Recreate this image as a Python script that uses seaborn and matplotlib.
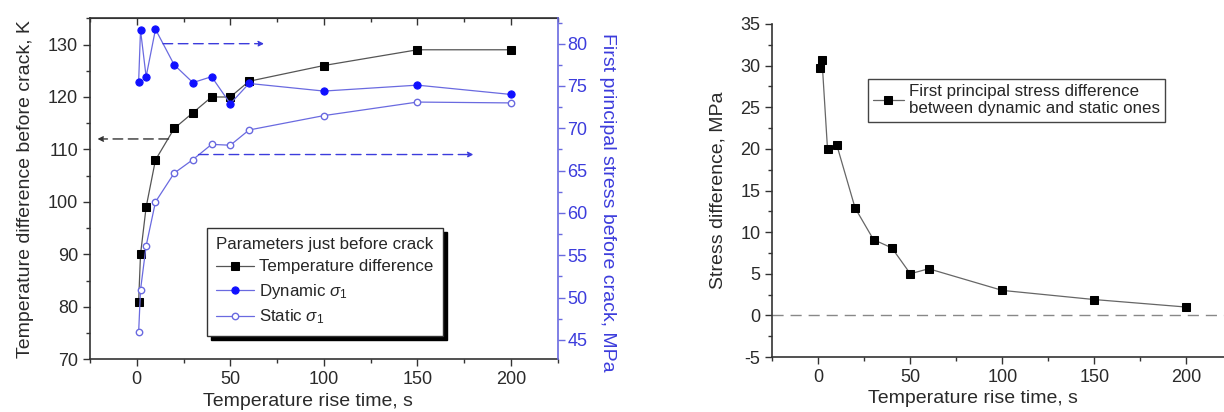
import numpy as np
import pandas as pd
import matplotlib
matplotlib.use('Agg')
import matplotlib.pyplot as plt
from matplotlib.ticker import MultipleLocator
import seaborn as sns

# valores
tempo = [1, 2, 5, 10, 20, 30, 40, 50, 60, 100, 150, 200]
dif_temp = [81, 90, 99, 108, 114, 117, 120, 120, 123, 126, 129, 129]
sigma_din = [75.5, 81.6, 76.1, 81.7, 77.5, 75.4, 76.1, 72.9, 75.3, 74.4, 75.1, 74.0]
sigma_est = [45.9, 50.9, 56.1, 61.3, 64.7, 66.3, 68.1, 68.0, 69.8, 71.5, 73.1, 73.0]
dif_tensao = [29.7, 30.7, 20.0, 20.5, 12.9, 9.1, 8.1, 5.0, 5.6, 3.0, 1.9, 1.0]

# setas (inicio, fim) em coordenadas de dados
seta_temp = ((17, 112), (-21, 112))
seta_din = ((14, 80), (68, 80))
seta_est = ((33, 66.9), (180, 66.9))

df = pd.DataFrame({'t': tempo, 'dT': dif_temp, 'din': sigma_din,
                   'est': sigma_est, 'ds': dif_tensao})

sns.set_style('ticks')
plt.rcParams['font.family'] = ['Liberation Sans', 'DejaVu Sans']
plt.rcParams['mathtext.fontset'] = 'custom'
plt.rcParams['mathtext.rm'] = 'Liberation Sans'
plt.rcParams['mathtext.it'] = 'Liberation Sans:italic'
plt.rcParams['axes.unicode_minus'] = False

azul = '#3c3cdc'
azul_linha = '#6a6ae0'
cinza_txt = '#2a2a2a'
tam_tick = 13
tam_rotulo = 14
tam_leg = 12.2

fig = plt.figure(figsize=(12.24, 4.12), dpi=100)

# ---------------- grafico da esquerda ----------------
ax = fig.add_axes([90 / 1224, 1 - 359.3 / 412, 467.7 / 1224, 341 / 412])
ax2 = ax.twinx()

sns.lineplot(data=df, x='t', y='dT', ax=ax, color='#555555', lw=0.9,
             marker='s', markersize=5.4, markerfacecolor='black',
             markeredgecolor='black', label='Temperature difference')
sns.lineplot(data=df, x='t', y='din', ax=ax2, color=azul_linha, lw=0.9,
             marker='o', markersize=5.2, markerfacecolor='#1010ff',
             markeredgecolor='#1010ff', label=r'Dynamic $\sigma_1$')
sns.lineplot(data=df, x='t', y='est', ax=ax2, color=azul_linha, lw=0.9,
             marker='o', markersize=4.6, markerfacecolor='white',
             markeredgecolor=azul_linha, markeredgewidth=1,
             label=r'Static $\sigma_1$')

ax.set_xlim(-25, 225)
ax.set_ylim(70, 135)
ax2.set_ylim(42.7, 83)

ax.xaxis.set_major_locator(MultipleLocator(50))
ax.xaxis.set_minor_locator(MultipleLocator(25))
ax.yaxis.set_major_locator(MultipleLocator(10))
ax.yaxis.set_minor_locator(MultipleLocator(5))
ax2.yaxis.set_major_locator(MultipleLocator(5))
ax2.yaxis.set_minor_locator(MultipleLocator(2.5))

ax.tick_params(axis='both', which='major', direction='out', length=5,
               width=1, labelsize=tam_tick, labelcolor=cinza_txt, color='#333')
ax.tick_params(axis='both', which='minor', direction='out', length=3,
               width=1, color='#333')
topo = ax.secondary_xaxis('top')
topo.xaxis.set_major_locator(MultipleLocator(50))
topo.xaxis.set_minor_locator(MultipleLocator(25))
topo.tick_params(which='major', direction='in', length=5, width=1,
                 labeltop=False, color='#333')
topo.tick_params(which='minor', direction='in', length=3, width=1, color='#333')
topo.spines['top'].set_color('#333')

ax2.tick_params(axis='y', which='major', direction='out', length=5, width=1,
                labelsize=tam_tick, labelcolor=azul, color=azul_linha, pad=2)
ax2.tick_params(axis='y', which='minor', direction='out', length=3, width=1,
                color=azul_linha)
ax.spines['right'].set_visible(False)
ax2.spines['left'].set_visible(False)
ax2.spines['top'].set_visible(False)
ax2.spines['bottom'].set_visible(False)
ax2.spines['right'].set_color(azul_linha)
ax2.spines['right'].set_linewidth(1.2)
for s in ['left', 'bottom', 'top']:
    ax.spines[s].set_color('#333')
    ax.spines[s].set_linewidth(1.2)

ax.set_xlabel('Temperature rise time, s', fontsize=tam_rotulo, color=cinza_txt)
ax.xaxis.set_label_coords(0.465, -0.1)
ax.set_ylabel('Temperature difference before crack, K', fontsize=tam_rotulo,
              color=cinza_txt)
ax.yaxis.set_label_coords(-0.12, 0.5)
ax2.set_ylabel('First principal stress before crack, MPa', fontsize=tam_rotulo,
               color=azul, rotation=270)
ax2.yaxis.set_label_coords(1.125, 0.46)

# setas tracejadas
ax.annotate('', xy=seta_temp[1], xytext=seta_temp[0],
            arrowprops=dict(arrowstyle='-|>', color='#333', lw=1,
                            ls=(0, (7, 4)), mutation_scale=8,
                            shrinkA=0, shrinkB=0))
for seta in [seta_din, seta_est]:
    ax2.annotate('', xy=seta[1], xytext=seta[0],
                 arrowprops=dict(arrowstyle='-|>', color=azul, lw=1,
                                 ls=(0, (7, 4)), mutation_scale=8,
                                 shrinkA=0, shrinkB=0))

ax2.get_legend().remove()
h1, l1 = ax.get_legend_handles_labels()
h2, l2 = ax2.get_legend_handles_labels()
leg = ax.legend(h1 + h2, l1 + l2, title='Parameters just before crack',
                loc='upper left', bbox_to_anchor=(0.25, 0.385),
                borderaxespad=0, fancybox=False, framealpha=1,
                edgecolor='#333', fontsize=tam_leg, title_fontsize=tam_leg,
                handlelength=2.2, handletextpad=0.3, labelspacing=0.42,
                borderpad=0.55,
                shadow={'facecolor': 'black', 'edgecolor': 'black',
                        'alpha': 1, 'ox': 3, 'oy': -3})
leg._legend_box.align = 'left'
leg.get_frame().set_linewidth(1)
leg.set_zorder(10)

# ---------------- grafico da direita ----------------
bx = fig.add_axes([772.3 / 1224, 1 - 357 / 412, 460 / 1224, 333 / 412])
bx.axhline(0, color='#888888', lw=1, ls=(0, (8, 5)), zorder=1)
sns.lineplot(data=df, x='t', y='ds', ax=bx, color='#666666', lw=0.9,
             marker='s', markersize=5.2, markerfacecolor='black',
             markeredgecolor='black',
             label='First principal stress difference\nbetween dynamic and static ones')
bx.set_xlim(-25, 225)
bx.set_ylim(-5, 35)
bx.xaxis.set_major_locator(MultipleLocator(50))
bx.xaxis.set_minor_locator(MultipleLocator(25))
bx.yaxis.set_major_locator(MultipleLocator(5))
bx.yaxis.set_minor_locator(MultipleLocator(2.5))
bx.tick_params(axis='both', which='major', direction='out', length=5, width=1,
               labelsize=tam_tick, labelcolor=cinza_txt, color='#333')
bx.tick_params(axis='both', which='minor', direction='out', length=3, width=1,
               color='#333')
sns.despine(ax=bx)
for s in ['left', 'bottom']:
    bx.spines[s].set_color('#333')
    bx.spines[s].set_linewidth(1.2)
bx.set_xlabel('Temperature rise time, s', fontsize=tam_rotulo, color=cinza_txt)
bx.xaxis.set_label_coords(0.436, -0.1)
bx.set_ylabel('Stress difference, MPa', fontsize=tam_rotulo, color=cinza_txt)
bx.yaxis.set_label_coords(-0.1, 0.5)
leg2 = bx.legend(loc='upper left', bbox_to_anchor=(0.208, 0.835),
                 borderaxespad=0, fancybox=False, framealpha=1,
                 edgecolor='#444', fontsize=tam_leg, handlelength=1.8,
                 handletextpad=0.3, borderpad=0.3)
leg2.get_frame().set_linewidth(1)

fig.savefig('out.png', dpi=100)
